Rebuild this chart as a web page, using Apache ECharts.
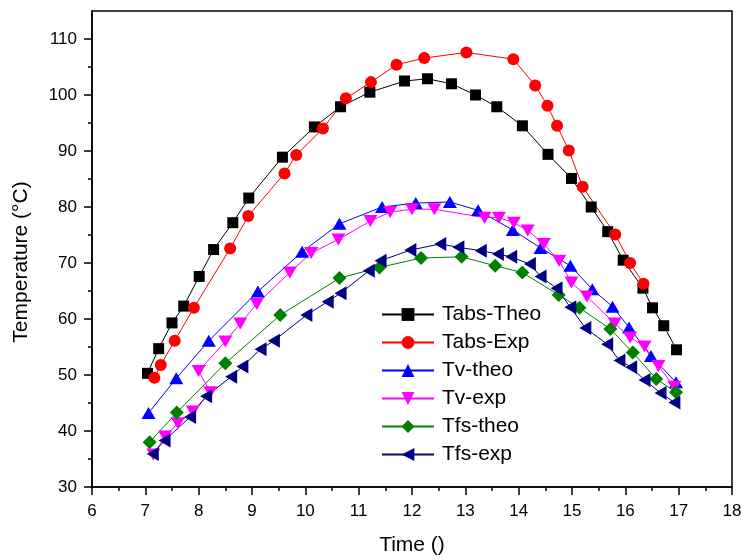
<!DOCTYPE html>
<html>
<head>
<meta charset="utf-8">
<script src="https://cdn.jsdelivr.net/npm/echarts@6/dist/echarts.min.js"></script>
<style>
    html, body { margin: 0; padding: 0; background: #fff; }
    #chart { width: 743px; height: 560px; }
</style>
</head>
<body>
<div id="chart"></div>
<script>
// ticks
var yMajorTicks = [30, 40, 50, 60, 70, 80, 90, 100, 110];
var yMinorTicks = [35, 45, 55, 65, 75, 85, 95, 105];

// Tabs-Theo
var tabsTheoX = [7.04, 7.25, 7.50, 7.72, 8.01, 8.28, 8.64, 8.94, 9.57, 10.17, 10.66, 11.21, 11.86, 12.29, 12.74, 13.19, 13.59, 14.07, 14.55, 14.99, 15.36, 15.67, 15.96, 16.33, 16.51, 16.72, 16.96];
var tabsTheoY = [50.3, 54.7, 59.3, 62.3, 67.6, 72.4, 77.2, 81.6, 88.9, 94.3, 97.9, 100.5, 102.5, 102.9, 102.0, 100.0, 97.9, 94.5, 89.4, 85.1, 80.0, 75.6, 70.5, 65.5, 62.0, 58.8, 54.5];
// Tabs-Exp
var tabsExpX = [7.17, 7.29, 7.55, 7.91, 8.59, 8.93, 9.61, 9.83, 10.33, 10.76, 11.23, 11.71, 12.23, 13.02, 13.90, 14.31, 14.54, 14.72, 14.94, 15.20, 15.81, 16.09, 16.34];
var tabsExpY = [49.5, 51.8, 56.1, 62.0, 72.6, 78.4, 86.0, 89.3, 94.0, 99.4, 102.3, 105.4, 106.6, 107.6, 106.4, 101.7, 98.1, 94.5, 90.1, 83.6, 75.1, 70.0, 66.3];
// Tv-theo
var tvTheoX = [7.06, 7.58, 8.19, 9.11, 9.94, 10.64, 11.44, 12.07, 12.71, 13.24, 13.89, 14.41, 14.97, 15.38, 15.76, 16.07, 16.48, 16.95];
var tvTheoY = [43.2, 49.4, 56.1, 64.9, 72.0, 77.0, 80.0, 80.7, 80.9, 79.4, 75.9, 72.7, 69.5, 65.3, 62.2, 58.5, 53.4, 48.7];
// Tv-exp (order as measured, line goes back once near 8 h)
var tvExpX = [7.15, 7.37, 7.61, 7.89, 8.22, 8.00, 8.50, 8.78, 9.09, 9.71, 10.11, 10.62, 11.22, 11.59, 12.00, 12.42, 13.36, 13.63, 13.91, 14.17, 14.47, 14.76, 14.99, 15.28, 15.80, 16.09, 16.36, 16.62, 16.92];
var tvExpY = [35.8, 39.0, 41.4, 43.5, 46.9, 50.7, 56.0, 59.2, 62.7, 68.3, 71.8, 74.2, 77.5, 79.1, 79.6, 79.6, 78.1, 78.1, 77.2, 75.8, 73.4, 70.4, 66.5, 64.0, 59.2, 56.7, 55.1, 51.6, 47.9];
// Tfs-theo
var tfsTheoX = [7.08, 7.59, 8.50, 9.53, 10.64, 11.39, 12.17, 12.93, 13.56, 14.07, 14.75, 15.14, 15.72, 16.14, 16.58, 16.95];
var tfsTheoY = [38.0, 43.3, 52.1, 60.7, 67.3, 69.2, 70.9, 71.1, 69.5, 68.3, 64.3, 62.0, 58.2, 54.0, 49.3, 46.9];
// Tfs-exp
var tfsExpX = [7.14, 7.36, 7.84, 8.14, 8.61, 8.82, 9.16, 9.41, 10.02, 10.42, 10.66, 11.19, 11.41, 11.97, 12.53, 12.87, 13.29, 13.61, 13.86, 14.21, 14.41, 14.71, 14.97, 15.25, 15.66, 15.89, 16.11, 16.36, 16.66, 16.92];
var tfsExpY = [35.9, 38.3, 42.5, 46.2, 49.7, 51.5, 54.6, 56.1, 60.7, 63.1, 64.6, 68.6, 70.4, 72.3, 73.4, 72.8, 72.2, 71.6, 71.1, 69.8, 67.6, 65.5, 62.1, 58.4, 55.5, 52.6, 51.4, 49.1, 46.8, 45.1];

function zip(xs, ys) {
    var out = [];
    for (var i = 0; i < xs.length; i++) {
        out.push([xs[i], ys[i]]);
    }
    return out;
}

function lineSeries(name, xs, ys, color, symbol, size) {
    return {
        name: name,
        type: 'line',
        data: zip(xs, ys),
        symbol: symbol,
        symbolSize: size,
        showAllSymbol: true,
        lineStyle: { color: color, width: 1 },
        itemStyle: { color: color },
        emphasis: { disabled: true },
        animation: false
    };
}

var fontFamily = '"Liberation Sans", Arial, sans-serif';
var chart = echarts.init(document.getElementById('chart'));

var option = {
    backgroundColor: '#fff',
    textStyle: { fontFamily: fontFamily },
    grid: {
        left: 92, right: 11, top: 11, bottom: 73,
        show: true, borderColor: '#000', borderWidth: 1.5,
        outerBoundsMode: 'none'
    },
    legend: {
        orient: 'vertical',
        left: 376,
        top: 299,
        itemWidth: 52,
        itemHeight: 16,
        itemGap: 7,
        textStyle: { fontSize: 21, color: '#000', fontFamily: fontFamily, padding: [0, 0, 0, 3] },
        data: ['Tabs-Theo', 'Tabs-Exp', 'Tv-theo', 'Tv-exp', 'Tfs-theo', 'Tfs-exp']
    },
    xAxis: {
        type: 'value',
        min: 6, max: 18, interval: 1,
        name: 'Time ()',
        nameLocation: 'middle',
        nameGap: 48,
        nameTextStyle: { fontSize: 21, color: '#000' },
        axisLine: { lineStyle: { color: '#000', width: 1.5 } },
        axisTick: { show: true, length: 8, lineStyle: { color: '#000', width: 1.5 } },
        minorTick: { show: true, splitNumber: 2, length: 4, lineStyle: { color: '#000', width: 1.5 } },
        axisLabel: { fontSize: 17, color: '#000', margin: 16 },
        splitLine: { show: false }
    },
    yAxis: [{
        type: 'value',
        min: 30, max: 115,
        name: 'Temperature (°C)',
        nameLocation: 'middle',
        nameGap: 60,
        nameTextStyle: { fontSize: 21, color: '#000', padding: [0, 26, 0, 0] },
        axisLine: { lineStyle: { color: '#000', width: 1.5 } },
        axisTick: { show: true, length: 8, customValues: yMajorTicks, lineStyle: { color: '#000', width: 1.5 } },
        axisLabel: { fontSize: 17, color: '#000', margin: 15, customValues: yMajorTicks },
        splitLine: { show: false }
    }, {
        type: 'value',
        min: 30, max: 115,
        position: 'left',
        axisLine: { show: false },
        axisTick: { show: true, length: 4, customValues: yMinorTicks, lineStyle: { color: '#000', width: 1.5 } },
        axisLabel: { show: false },
        splitLine: { show: false }
    }],
    series: [
        lineSeries('Tabs-Theo', tabsTheoX, tabsTheoY, '#000000', 'rect', 11),
        lineSeries('Tabs-Exp', tabsExpX, tabsExpY, '#ff0000', 'circle', 12),
        lineSeries('Tv-theo', tvTheoX, tvTheoY, '#0000ff', 'path://M5,0 L10,9 L0,9 Z', [14, 12]),
        lineSeries('Tv-exp', tvExpX, tvExpY, '#ff00ff', 'path://M0,0 L10,0 L5,9 Z', [14, 12]),
        lineSeries('Tfs-theo', tfsTheoX, tfsTheoY, '#008000', 'diamond', 14),
        lineSeries('Tfs-exp', tfsExpX, tfsExpY, '#000080', 'path://M0,5 L9,0 L9,10 Z', [12, 14])
    ]
};

chart.setOption(option);
</script>
</body>
</html>
